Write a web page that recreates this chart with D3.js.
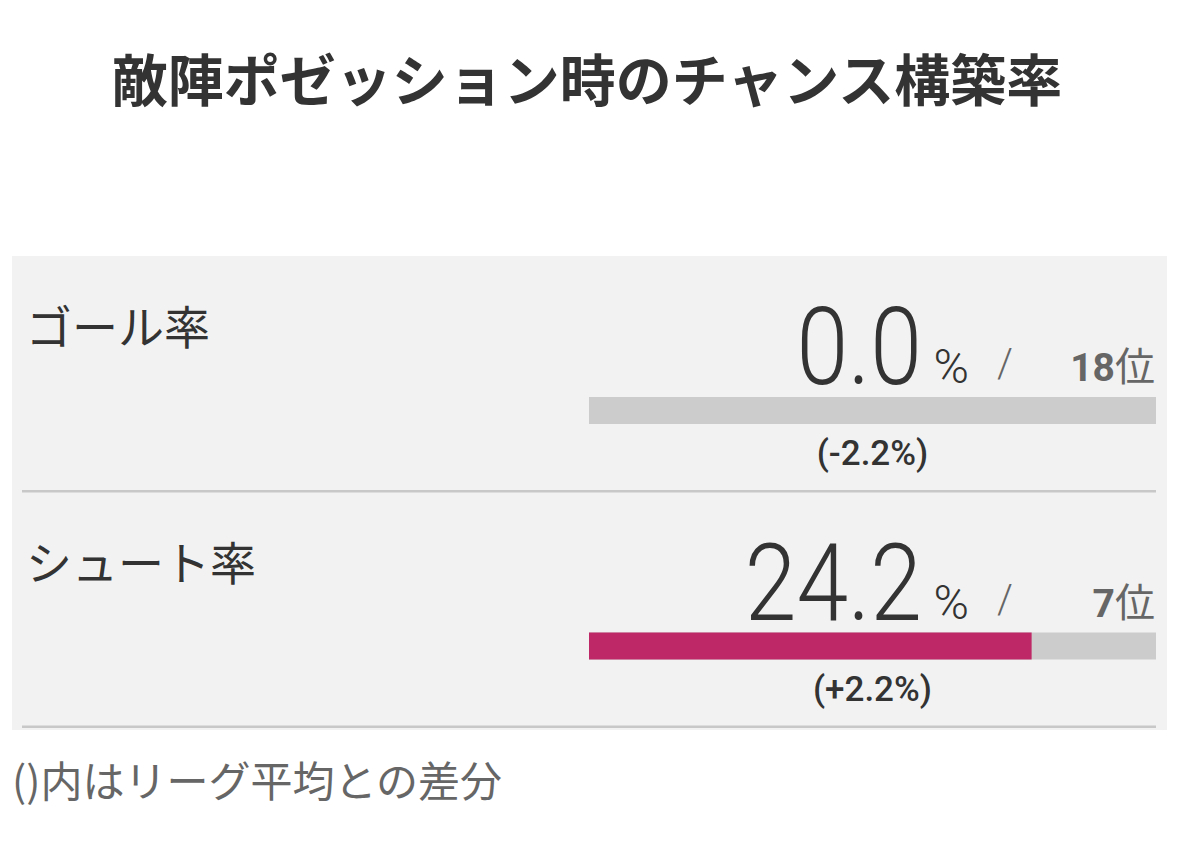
<!DOCTYPE html>
<html>
<head>
<meta charset="utf-8">
<script src="https://cdn.jsdelivr.net/npm/d3@7"></script>
<style>
  body { margin: 0; background: #fff; }
  svg { display: block; }
</style>
</head>
<body>
<div id="chart"></div>
<script>
// chart data
const title = "敵陣ポゼッション時のチャンス構築率";
const labels = ["ゴール率", "シュート率"];
const values = [0.0, 24.2];
const ranks = [18, 7];
const diffs = [-2.2, 2.2];
const barMax = 31;
const note = "()内はリーグ平均との差分";

const width = 1179, height = 852;
const jp = "'Noto Sans CJK JP', 'Noto Sans', sans-serif";
const num = "Roboto, 'Noto Sans CJK JP', sans-serif";

const svg = d3.select("#chart")
  .append("svg")
  .attr("width", width)
  .attr("height", height);

// title
svg.append("text")
  .attr("x", 587)
  .attr("y", 101)
  .attr("text-anchor", "middle")
  .attr("font-family", jp)
  .attr("font-weight", 700)
  .attr("font-size", "56px")
  .attr("fill", "#333")
  .text(title);

// panel
const panel = { left: 12, right: 1167, top: 256, bottom: 730 };
svg.append("rect")
  .attr("x", panel.left)
  .attr("y", panel.top)
  .attr("width", panel.right - panel.left)
  .attr("height", panel.bottom - panel.top)
  .attr("fill", "#f2f2f2");

// scales
const xScale = d3.scaleLinear()
  .domain([0, barMax])
  .range([589, 1156]);

const yScale = d3.scaleLinear()
  .domain([0, labels.length])
  .range([panel.top, panel.top + 471]);

const rows = svg.selectAll(".row")
  .data(labels.map((label, i) => ({ label, value: values[i], rank: ranks[i], diff: diffs[i] })))
  .join("g")
  .attr("class", "row")
  .attr("transform", (d, i) => `translate(0,${yScale(i)})`);

// row label
rows.append("text")
  .attr("x", 26)
  .attr("y", 88)
  .attr("font-family", jp)
  .attr("font-size", "46px")
  .attr("fill", "#333")
  .text(d => d.label);

// big value (condensed light digits)
rows.append("text")
  .attr("transform", "translate(922,128) scale(0.87,1)")
  .attr("text-anchor", "end")
  .attr("font-family", num)
  .attr("font-weight", 300)
  .attr("font-size", "107px")
  .attr("fill", "#333")
  .text(d => d.value.toFixed(1));

rows.append("text")
  .attr("x", 969)
  .attr("y", 127)
  .attr("text-anchor", "end")
  .attr("font-family", num)
  .attr("font-weight", 300)
  .attr("font-size", "48px")
  .attr("fill", "#333")
  .text("%");

rows.append("text")
  .attr("x", 1005)
  .attr("y", 121)
  .attr("text-anchor", "middle")
  .attr("font-family", num)
  .attr("font-weight", 300)
  .attr("font-size", "40px")
  .attr("fill", "#666")
  .text("/");

// rank
rows.append("text")
  .attr("x", 1155)
  .attr("y", 125)
  .attr("text-anchor", "end")
  .attr("font-family", num)
  .attr("fill", "#666")
  .call(t => {
    t.append("tspan")
      .attr("font-weight", 700)
      .attr("font-size", "39px")
      .text(d => d.rank);
    t.append("tspan")
      .attr("font-family", jp)
      .attr("font-size", "40px")
      .text("位");
  });

// bars
rows.append("rect")
  .attr("x", xScale(0))
  .attr("y", 141)
  .attr("width", xScale(barMax) - xScale(0))
  .attr("height", 27)
  .attr("fill", "#cccccc");

rows.append("rect")
  .attr("x", xScale(0))
  .attr("y", 141)
  .attr("width", d => xScale(d.value) - xScale(0))
  .attr("height", 27)
  .attr("fill", "#bf2866");

// difference to league average
rows.append("text")
  .attr("x", (xScale(0) + xScale(barMax)) / 2)
  .attr("y", 209)
  .attr("text-anchor", "middle")
  .attr("font-family", num)
  .attr("font-weight", 500)
  .attr("font-size", "35px")
  .attr("fill", "#333")
  .text(d => `(${d.diff > 0 ? "+" : ""}${d.diff.toFixed(1)}%)`);

// divider
rows.append("rect")
  .attr("x", 22)
  .attr("y", 234)
  .attr("width", 1156 - 22)
  .attr("height", 2.5)
  .attr("fill", "#c8c8c8");

// footnote
svg.append("text")
  .attr("x", 12)
  .attr("y", 797)
  .attr("font-family", jp)
  .attr("font-size", "42px")
  .attr("fill", "#666")
  .text(note);
</script>
</body>
</html>
